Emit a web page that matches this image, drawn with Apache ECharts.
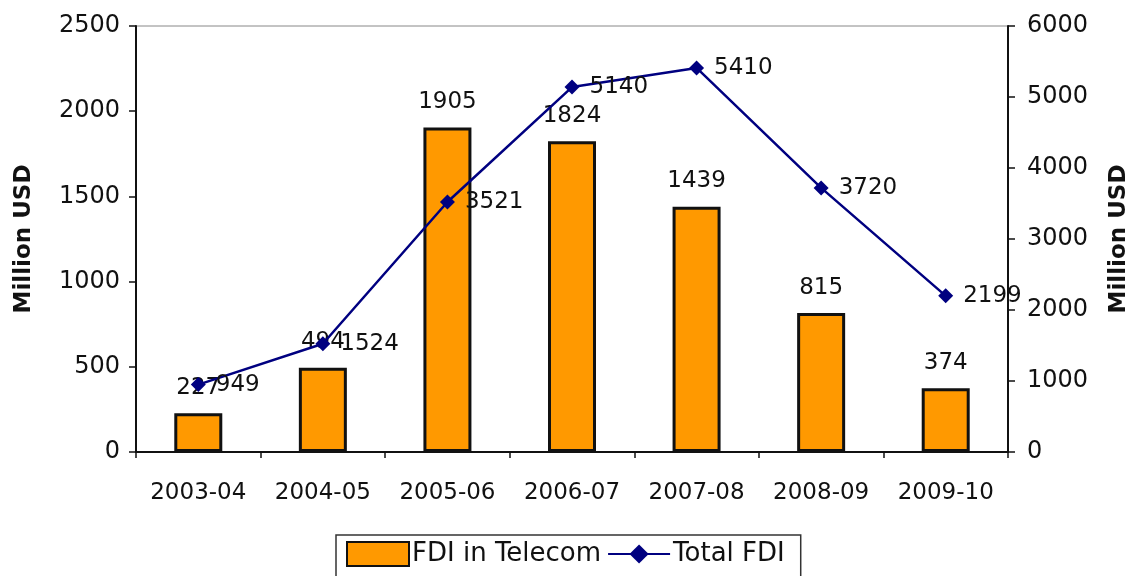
<!DOCTYPE html>
<html>
<head>
<meta charset="utf-8">
<script src="https://cdn.jsdelivr.net/npm/echarts@6/dist/echarts.min.js"></script>
<style>
  html, body { margin: 0; padding: 0; background: #fff; }
  #chart { width: 1128px; height: 576px; }
</style>
</head>
<body>
<div id="chart"></div>
<script>
// data
const years = ['2003-04', '2004-05', '2005-06', '2006-07', '2007-08', '2008-09', '2009-10'];
const telecomFdi = [227, 494, 1905, 1824, 1439, 815, 374];
const totalFdi = [949, 1524, 3521, 5140, 5410, 3720, 2199];

const font = 'DejaVu Sans, sans-serif';

let chart = echarts.init(document.getElementById('chart'));
let option = {
  animation: false,
  textStyle: { fontFamily: font },
  grid: {
    left: 136, right: 120, top: 26, bottom: 124,
    outerBoundsMode: 'none',
    containLabel: false,
    show: true, borderColor: '#888', borderWidth: 1
  },
  legend: {
    top: 535,
    left: 336,
    padding: [6, 16, 14, 10],
    borderColor: '#333',
    borderWidth: 1.5,
    itemGap: 6,
    itemWidth: 62,
    itemHeight: 24,
    textStyle: { fontSize: 26, color: '#111', fontFamily: font, padding: [0, 0, 0, -2] },
    data: [
      { name: 'FDI in Telecom', icon: 'rect' },
      { name: 'Total FDI' }
    ]
  },
  xAxis: {
    type: 'category',
    data: years,
    axisLine: { lineStyle: { color: '#111', width: 2 } },
    axisTick: { show: true, length: 6, lineStyle: { color: '#111', width: 1.5 } },
    axisLabel: { fontSize: 23, color: '#111', margin: 30, interval: 0 }
  },
  yAxis: [
    {
      type: 'value', min: 0, max: 2500, interval: 500,
      name: 'Million USD', nameLocation: 'middle', nameGap: 100,
      nameTextStyle: { fontSize: 23, fontWeight: 'bold', color: '#111' },
      axisLine: { show: true, lineStyle: { color: '#111', width: 2 } },
      axisTick: { show: true, length: 7, lineStyle: { color: '#111', width: 1.5 } },
      axisLabel: { fontSize: 24, color: '#111', margin: 16, formatter: v => String(v) },
      splitLine: { show: false }
    },
    {
      type: 'value', min: 0, max: 6000, interval: 1000,
      name: 'Million USD', nameLocation: 'middle', nameGap: 100, nameRotate: 90,
      nameTextStyle: { fontSize: 23, fontWeight: 'bold', color: '#111' },
      axisLine: { show: true, lineStyle: { color: '#111', width: 2 } },
      axisTick: { show: true, length: 7, lineStyle: { color: '#111', width: 1.5 } },
      axisLabel: { fontSize: 24, color: '#111', margin: 19, formatter: v => String(v) },
      splitLine: { show: false }
    }
  ],
  series: [
    {
      name: 'FDI in Telecom',
      type: 'bar',
      yAxisIndex: 0,
      barWidth: 48,
      data: telecomFdi,
      itemStyle: { color: '#FF9900', borderColor: '#111', borderWidth: 3 },
      label: { show: true, position: 'top', distance: 14, fontSize: 23, color: '#111' }
    },
    {
      name: 'Total FDI',
      type: 'line',
      yAxisIndex: 1,
      data: totalFdi,
      symbol: 'diamond',
      symbolSize: 15,
      lineStyle: { color: '#000080', width: 2.5 },
      itemStyle: { color: '#000080' },
      label: { show: true, position: 'right', distance: 10, fontSize: 23, color: '#111' },
      z: 3
    }
  ]
};
chart.setOption(option);
</script>
</body>
</html>
